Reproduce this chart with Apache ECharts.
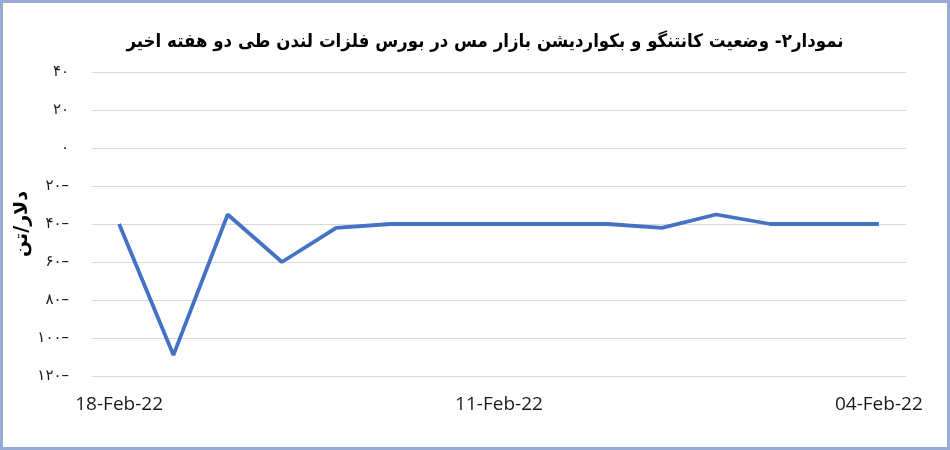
<!DOCTYPE html>
<html>
<head>
<meta charset="utf-8">
<script src="https://cdn.jsdelivr.net/npm/echarts@6/dist/echarts.min.js"></script>
<style>
  html, body { margin: 0; padding: 0; background: #fff; }
  #chart { width: 950px; height: 450px; }
</style>
</head>
<body>
<div id="chart"></div>
<script>
// تاریخ ها (از راست به چپ نزولی نمایش داده می شود)
const dates = [
  '18-Feb-22', '17-Feb-22', '16-Feb-22', '15-Feb-22', '14-Feb-22',
  '13-Feb-22', '12-Feb-22', '11-Feb-22', '10-Feb-22', '09-Feb-22',
  '08-Feb-22', '07-Feb-22', '06-Feb-22', '05-Feb-22', '04-Feb-22',
]
// اختلاف قیمت نقدی و سه ماهه (دلار/تن)
const spread = [-40, -109, -35, -60, -42, -40, -40, -40, -40, -40, -42, -35, -40, -40, -40]

const faDigits = ['۰', '۱', '۲', '۳', '۴', '۵', '۶', '۷', '۸', '۹']

const title = 'نمودار۲- وضعیت کانتنگو و بکواردیشن بازار مس در بورس فلزات لندن طی دو هفته اخیر'
const yName = 'دلار/تن'

// عدد به رقم فارسی، منفی با خط تیره در سمت راست
function toFa(v) {
  const s = String(Math.abs(v)).replace(/\d/g, d => faDigits[d])
  return v < 0 ? s + '–' : s
}

const chart = echarts.init(document.getElementById('chart'))

chart.setOption({
  backgroundColor: '#ffffff',
  animation: false,
  title: {
    text: title,
    left: 480,
    textAlign: 'center',
    top: 28,
    textStyle: {
      fontFamily: 'DejaVu Sans Condensed',
      fontWeight: 'bold',
      fontSize: 18.5,
      color: '#000',
    },
  },
  /** قاب بیرونی */
  graphic: [
    {
      type: 'rect',
      shape: {x: 1.5, y: 1.5, width: 947, height: 447},
      style: {fill: 'none', stroke: '#98acd6', lineWidth: 3},
      silent: true,
    },
  ],
  grid: {
    left: 92,
    right: 44,
    top: 72,
    bottom: 74,
  },
  xAxis: {
    type: 'category',
    data: dates,
    boundaryGap: true,
    axisLine: {show: false},
    axisTick: {show: false},
    axisLabel: {
      interval: 6,
      margin: 19,
      fontFamily: 'Open Sans',
      fontSize: 19,
      color: '#1a1a1a',
    },
  },
  yAxis: {
    type: 'value',
    min: -120,
    max: 40,
    interval: 20,
    name: yName,
    nameLocation: 'middle',
    nameRotate: 90,
    nameGap: 60,
    nameMoveOverlap: false,
    nameTextStyle: {
      fontFamily: 'DejaVu Sans',
      fontWeight: 'bold',
      fontSize: 19,
      color: '#000',
    },
    axisLine: {show: false},
    axisTick: {show: false},
    axisLabel: {
      margin: 23,
      fontFamily: 'DejaVu Sans',
      fontSize: 15,
      color: '#1a1a1a',
      formatter: v => toFa(v),
    },
    splitLine: {
      lineStyle: {color: '#d9d9d9', width: 1},
    },
  },
  series: [
    {
      type: 'line',
      data: spread,
      showSymbol: false,
      lineStyle: {color: '#4472c4', width: 3.8},
      itemStyle: {color: '#4472c4'},
    },
  ],
})
</script>
</body>
</html>
